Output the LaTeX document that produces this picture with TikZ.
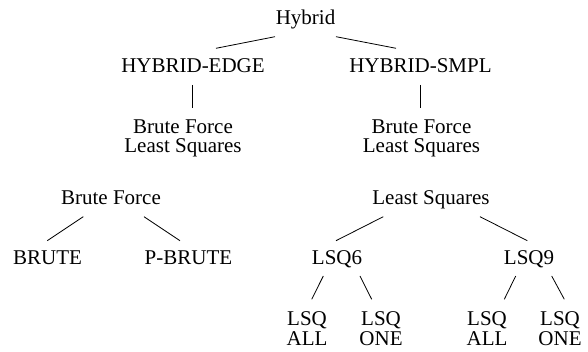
\documentclass[tikz,border=0pt]{standalone}
\usepackage{fontspec}
\setmainfont{Liberation Serif}
\usetikzlibrary{calc}

\tikzset{
  lbl/.style={inner sep=0pt, outer sep=0pt, anchor=base, align=center,
              font=\fontsize{21}{19.3}\selectfont},
  link/.style={line width=0.8pt, line cap=butt}
}

\begin{document}
\begin{tikzpicture}[x=1pt,y=1pt]
\useasboundingbox (0,0) rectangle (588,352);

% tree labels (base anchor = baseline of the last line)
\node[lbl] (hyb)    at (305.5,327)   {Hybrid};
\node[lbl] (edge)   at (193,279)     {HYBRID-EDGE};
\node[lbl] (smpl)   at (420.5,279)   {HYBRID-SMPL};
\node[lbl] (bfl)    at (183,199.4)   {Brute Force\\Least Squares};
\node[lbl] (bfr)    at (421.5,199.4) {Brute Force\\Least Squares};
\node[lbl] (bf)     at (111,147.7)   {Brute Force};
\node[lbl] (ls)     at (431,147.5)   {Least Squares};
\node[lbl] (brute)  at (47.5,87)     {BRUTE};
\node[lbl] (pbrute) at (188.5,87)    {P-BRUTE};
\node[lbl] (lsq6)   at (337,87)      {LSQ6};
\node[lbl] (lsq9)   at (529,87)      {LSQ9};
\node[lbl] (la1)    at (307,6.7)     {LSQ\\ALL};
\node[lbl] (lo1)    at (381,6.7)     {LSQ\\ONE};
\node[lbl] (la2)    at (487,6.7)     {LSQ\\ALL};
\node[lbl] (lo2)    at (560,6.7)     {LSQ\\ONE};

% branches
\draw[link] ($(hyb.base)+(-30.5,-11.7)$) -- ($(edge.base)+(23,24.7)$);
\draw[link] ($(hyb.base)+(30.5,-11.7)$)  -- ($(smpl.base)+(-24.5,24.7)$);
\draw[link] ($(edge.base)+(-1,-12)$)     -- ($(bfl.base)+(9,44.6)$);
\draw[link] ($(smpl.base)+(-0.5,-12)$)   -- ($(bfr.base)+(-1.5,44.6)$);
\draw[link] ($(bf.base)+(-27.7,-12.4)$)  -- ($(brute.base)+(-0.2,24.3)$);
\draw[link] ($(bf.base)+(33,-12.4)$)     -- ($(pbrute.base)+(-8.5,24.3)$);
\draw[link] ($(ls.base)+(-47.7,-12.2)$)  -- ($(lsq6.base)+(-1,24.3)$);
\draw[link] ($(ls.base)+(49,-12.2)$)     -- ($(lsq9.base)+(-1.7,24.3)$);
\draw[link] ($(lsq6.base)+(-13.7,-11)$)  -- ($(la1.base)+(4.7,46)$);
\draw[link] ($(lsq6.base)+(23,-11)$)     -- ($(lo1.base)+(-9.3,46)$);
\draw[link] ($(lsq9.base)+(-13.3,-11)$)  -- ($(la2.base)+(17.3,46)$);
\draw[link] ($(lsq9.base)+(22.7,-11)$)   -- ($(lo2.base)+(4.3,46)$);
\end{tikzpicture}
\end{document}
